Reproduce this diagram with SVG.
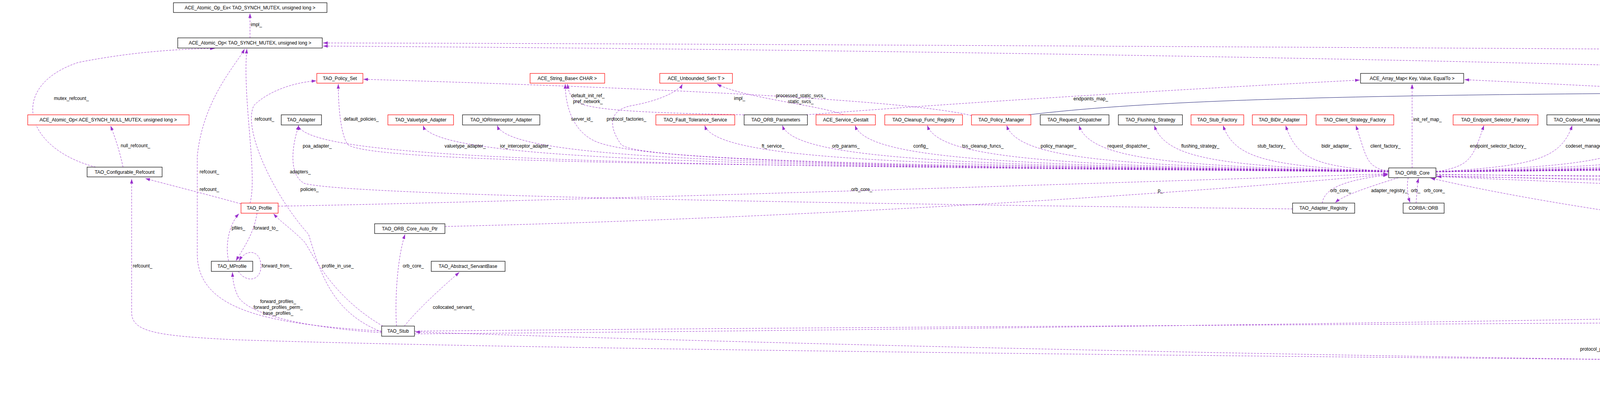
<svg xmlns="http://www.w3.org/2000/svg" width="7149" height="1032" viewBox="0 0 7149 1032">
<style>
text{font-family:"Liberation Sans",Arial,sans-serif;font-size:12px;fill:#000}
.n text{text-anchor:middle}
.n rect{fill:#fff;stroke:#000;stroke-width:1.2}
.r rect{stroke:#f00}
.g rect{fill:#bfbfbf}
.u{fill:none;stroke:#9a32cd;stroke-width:1;stroke-dasharray:5,3;marker-end:url(#ap)}
.i{fill:none;stroke:#191970;stroke-width:1;marker-end:url(#an)}
.t{fill:none;stroke:#8b1a1a;stroke-width:1;marker-end:url(#ar)}
.c{text-anchor:middle}
</style>
<defs>
<marker id="ap" markerUnits="userSpaceOnUse" markerWidth="12" markerHeight="8" refX="12" refY="4" orient="auto"><path d="M0,0 L12,4 L0,8 z" fill="#9a32cd"/></marker>
<marker id="an" markerUnits="userSpaceOnUse" markerWidth="12" markerHeight="8" refX="12" refY="4" orient="auto"><path d="M0,0 L12,4 L0,8 z" fill="#191970"/></marker>
<marker id="ar" markerUnits="userSpaceOnUse" markerWidth="12" markerHeight="8" refX="12" refY="4" orient="auto"><path d="M0,0 L12,4 L0,8 z" fill="#8b1a1a"/></marker>
</defs>
<rect width="7149" height="1032" fill="#fff"/>
<g id="connectors">
<path class="u" d="M640,97 L640,34"/><text x="642" y="67">impl_</text>
<path class="u" d="M245,428 C60,380 20,220 200,160 C350,130 480,125 550,124"/><text x="138" y="256">mutex_refcount_</text>
<path class="u" d="M315,428 C305,380 290,340 283,322"/><text x="309" y="377">null_refcount_</text>
<path class="u" d="M977,848 C700,830 505,800 505,650 L505,400 C520,250 610,160 626,125"/><text x="511" y="444">refcount_</text>
<path class="u" d="M6375,940 C4000,920 1500,900 600,870 C400,860 337,850 337,800 L337,458"/><text x="340" y="685">refcount_</text>
<path class="u" d="M617,522 C500,490 420,470 372,457"/><text x="511" y="489">refcount_</text>
<path class="u" d="M640,520 C660,450 620,250 632,125"/><text x="652" y="309">refcount_</text>
<path class="u" d="M3555,436 C2000,425 950,420 890,370 C870,340 866,260 866,215"/><text x="880" y="309">default_policies_</text>
<path class="u" d="M977,850 C850,800 820,700 790,600 C700,500 620,330 650,270 C690,230 760,210 810,207"/><text x="769" y="489">policies_</text>
<path class="u" d="M2487,296 C2300,250 1500,220 930,203"/><text x="1879" y="256">impl_</text>
<path class="u" d="M3309,535 C2000,520 900,500 780,470 C740,450 745,380 765,321"/><text x="742" y="444">adapters_</text>
<path class="u" d="M1905,294 C1700,290 1560,285 1500,270 C1465,260 1455,240 1453,215"/><text class="c" x="1505" y="249">default_init_ref_</text><text class="c" x="1505" y="264">pref_network_</text>
<path class="u" d="M3555,438 C2000,430 1600,400 1520,360 C1460,330 1447,260 1447,215"/><text x="1462" y="309">server_id_</text>
<path class="u" d="M3555,437 C2000,425 1620,400 1590,370 C1555,320 1560,280 1620,270 C1700,255 1740,230 1747,215"/><text x="1553" y="309">protocol_factories_</text>
<path class="u" d="M2160,294 C2100,270 1900,250 1835,215"/><text class="c" x="2050" y="249">processed_static_svcs_</text><text class="c" x="2050" y="264">static_svcs_</text>
<path class="u" d="M2064,294 C2500,260 3000,230 3481,205"/><text x="2748" y="257">endpoints_map_</text>
<path class="u" d="M5260,294 C5000,270 4500,240 3749,204"/><text x="4932" y="257">table_</text>
<path class="u" d="M980,835 C850,760 800,650 780,620 C740,580 720,570 700,547"/><text x="824" y="685">profile_in_use_</text>
<path class="u" d="M585,668 C575,620 590,570 612,547"/><text x="593" y="588">pfiles_</text>
<path class="u" d="M658,546 C650,600 620,640 604,668"/><text x="649" y="588">forward_to_</text>
<path class="u" d="M610,695 C630,725 668,720 668,682 C668,640 630,635 612,668"/><text x="670" y="685">forward_from_</text>
<path class="u" d="M977,852 C800,840 640,810 610,760 C600,740 596,720 595,697"/><text class="c" x="712" y="776">forward_profiles_</text><text class="c" x="712" y="791">forward_profiles_perm_</text><text class="c" x="712" y="806">base_profiles_</text>
<path class="u" d="M1015,835 C1010,750 1020,650 1037,600"/><text x="1031" y="685">orb_core_</text>
<path class="u" d="M1035,835 C1080,780 1150,720 1176,697"/><text x="1108" y="791">collocated_servant_</text>
<path class="u" d="M1139,580 C2000,560 3000,500 3553,446"/><text x="2964" y="492">p_</text>
<path class="u" d="M712,528 C1200,520 2500,480 3553,445"/><text x="2179" y="489">orb_core_</text>
<path class="u" d="M3385,520 C3390,480 3450,460 3553,448"/><text x="3405" y="492">orb_core_</text>
<path class="u" d="M3580,455 C3500,480 3440,500 3418,519"/><text x="3510" y="492">adapter_registry_</text>
<path class="u" d="M3605,455 C3600,480 3605,505 3610,519"/><text x="3612" y="492">orb_</text>
<path class="u" d="M3625,520 C3628,490 3628,470 3632,456"/><text x="3645" y="492">orb_core_</text>
<path class="u" d="M3676,450 C4500,470 5300,500 5831,523"/><text x="5219" y="492">thread_lane_resources_manager_</text>
<path class="u" d="M5833,532 C5000,505 4200,475 3678,452"/><text x="4786" y="492">orb_core_</text>
<path class="u" d="M5110,320 C5140,330 5180,325 5180,305 C5180,280 5140,278 5106,293"/><text x="5181" y="310">thr_mgr_</text>
<path class="u" d="M6500,320 C6540,328 6545,318 6545,305 C6545,285 6515,282 6487,293"/><text x="6548" y="304">max_time</text><text x="6565" y="319">zero</text>
<path class="u" d="M3676,446 C5000,470 6200,440 6430,410 C6470,400 6478,360 6474,321"/><text x="6395" y="446">timeout_</text>
<path class="u" d="M3676,438 C5000,430 6100,420 6150,400 C6170,340 6230,330 6330,305 C6300,270 6100,250 5500,210 C4000,150 2000,125 827,118"/><text x="6212" y="257">refcount_</text>
<path class="u" d="M6640,188 C6600,170 6500,145 6300,140 C5000,130 2000,112 827,110"/><text x="6489" y="160">refcount_</text>
<path class="u" d="M1061,855 C3000,840 6400,790 6520,740 C6550,700 6545,500 6550,215"/><text x="6546" y="491">profile_lock_ptr_</text>
<path class="u" d="M6500,927 C6600,890 6663,850 6663,800 L6663,300 C6640,260 6600,230 6575,215"/><text x="6665" y="539">object_init_lock_</text>
<path class="u" d="M6437,927 L6440,760 C6300,750 4500,650 3662,456"/><text x="6437" y="685">orb_core_</text>
<path class="u" d="M3676,452 C5000,470 6000,490 6200,510 C6245,520 6253,560 6253,600 L6253,860 C6260,900 6320,925 6373,932"/>
<text class="c" x="6324" y="634">pi_current_</text><text class="c" x="6324" y="649">ior_manip_factory_</text><text class="c" x="6324" y="663">ior_table_</text><text class="c" x="6324" y="678">typecode_factory_</text><text class="c" x="6324" y="693">implrepo_service_</text><text class="c" x="6324" y="708">codec_factory_</text><text class="c" x="6324" y="722">compression_manager_</text><text class="c" x="6324" y="737">dynany_factory_</text>
<path class="u" d="M6375,942 C4000,932 2000,882 1063,850"/><text x="4045" y="898">protocol_proxy_</text>
<path class="u" d="M3676,447 C5000,460 6200,430 6500,400 C6700,370 6800,340 6856,321"/><text class="c" x="6790" y="358">rt_orb_</text><text class="c" x="6790" y="373">poa_current_</text><text class="c" x="6790" y="387">rt_current_</text><text class="c" x="6790" y="402">root_poa_</text>
<path class="u" d="M6832,430 C6860,390 6890,350 6906,321"/><text x="6890" y="379">ssliop_current_</text>
<path class="u" d="M1061,848 C3000,830 6000,820 6560,810 C6700,700 6900,450 6963,321"/><text class="c" x="6979" y="529">servant_orb_</text><text class="c" x="6979" y="544">orb_</text>
<path class="u" d="M3555,440 C1601,425 793,410 763,321"/><text x="775" y="378">poa_adapter_</text>
<path class="u" d="M3555,440 C1825,425 1113,410 1083,321"/><text x="1138" y="378">valuetype_adapter_</text>
<path class="u" d="M3555,440 C1958,425 1303,410 1273,321"/><text x="1280" y="378">ior_interceptor_adapter_</text>
<path class="u" d="M3555,440 C2329,425 1834,410 1804,321"/><text x="1950" y="378">ft_service_</text>
<path class="u" d="M3555,440 C2469,425 2033,410 2003,321"/><text x="2130" y="378">orb_params_</text>
<path class="u" d="M3555,440 C2599,425 2219,410 2189,321"/><text x="2338" y="378">config_</text>
<path class="u" d="M3555,440 C2728,425 2404,410 2374,321"/><text x="2463" y="378">tss_cleanup_funcs_</text>
<path class="u" d="M3555,440 C2870,425 2607,410 2577,321"/><text x="2664" y="378">policy_manager_</text>
<path class="u" d="M3555,440 C3000,425 2792,410 2762,321"/><text x="2835" y="378">request_dispatcher_</text>
<path class="u" d="M3555,440 C3135,425 2985,410 2955,321"/><text x="3024" y="378">flushing_strategy_</text>
<path class="u" d="M3555,440 C3258,425 3161,410 3131,321"/><text x="3219" y="378">stub_factory_</text>
<path class="u" d="M3555,440 C3370,425 3321,410 3291,321"/><text x="3383" y="378">bidir_adapter_</text>
<path class="u" d="M3555,440 C3496,425 3501,410 3471,321"/><text x="3508" y="378">client_factory_</text>
<path class="u" d="M3615,430 L3615,215"/><text x="3618" y="310">init_ref_map_</text>
<path class="u" d="M3676,440 C3762,425 3769,410 3799,321"/><text x="3763" y="378">endpoint_selector_factory_</text>
<path class="u" d="M3676,440 C3920,425 3995,410 4025,321"/><text x="4008" y="378">codeset_manager_</text>
<path class="u" d="M3676,440 C4060,425 4194,410 4224,321"/><text x="4207" y="378">collocation_resolver_</text>
<path class="u" d="M3676,440 C4195,425 4387,410 4417,321"/><text x="4403" y="378">parser_registry_</text>
<path class="u" d="M3676,440 C4349,425 4607,410 4637,321"/><text x="4610" y="378">network_priority_protocols_hooks_</text>
<path class="u" d="M3676,440 C4520,425 4852,410 4882,321"/><text x="4873" y="378">protocols_hooks_</text>
<path class="u" d="M3676,440 C4646,425 5032,410 5062,321"/><text x="5049" y="378">tm_</text>
<path class="u" d="M3676,440 C4816,425 5275,410 5305,321"/><text x="5257" y="378">object_ref_table_</text>
<path class="u" d="M3676,440 C4996,425 5531,410 5561,321"/><text x="5518" y="378">data_block_lock_</text>
<path class="u" d="M3676,440 C5161,425 5768,410 5798,321"/><text x="5754" y="378">policy_current_</text>
<path class="u" d="M3676,440 C5264,425 5915,410 5945,321"/><text x="5879" y="378">server_factory_</text>
<path class="u" d="M3676,440 C5415,425 6130,410 6160,321"/><text x="6010" y="378">resource_factory_</text>
<path class="u" d="M3676,440 C5579,425 6300,400 6394,318"/><text x="6174" y="378">thread_per_connection_timeout_</text>
<path class="i" d="M5676,294 C6000,250 6300,210 6477,204"/>
<path class="i" d="M2633,294 C3000,250 3600,240 4800,236 C5600,232 6300,220 6586,214"/>
<path class="i" d="M5905,294 C6100,260 6400,225 6586,217"/>
<path class="i" d="M6815,430 L6705,215"/>
<path class="i" d="M6800,212 C6950,250 7055,300 7055,400 L7055,920 C7055,960 7000,985 6944,1003"/>
<path class="i" d="M6870,1004 L6491,952"/>
<path class="t" d="M6940,294 L7058,215"/>
</g>
<g id="n_atomic_ex" class="n"><rect x="444" y="7" width="393" height="25"/><text x="640" y="24">ACE_Atomic_Op_Ex&lt; TAO_SYNCH_MUTEX, unsigned long &gt;</text></g>
<g id="n_atomic" class="n"><rect x="455" y="97" width="370" height="26"/><text x="640" y="114">ACE_Atomic_Op&lt; TAO_SYNCH_MUTEX, unsigned long &gt;</text></g>
<g id="n_policy_set" class="n r"><rect x="811" y="188" width="118" height="25"/><text x="870" y="205">TAO_Policy_Set</text></g>
<g id="n_string_base" class="n r"><rect x="1357" y="188" width="191" height="25"/><text x="1452" y="205">ACE_String_Base&lt; CHAR &gt;</text></g>
<g id="n_unbounded_set" class="n r"><rect x="1689" y="188" width="186" height="25"/><text x="1782" y="205">ACE_Unbounded_Set&lt; T &gt;</text></g>
<g id="n_array_map" class="n"><rect x="3483" y="188" width="264" height="25"/><text x="3615" y="205">ACE_Array_Map&lt; Key, Value, EqualTo &gt;</text></g>
<g id="n_ace_lock" class="n"><rect x="6479" y="188" width="85" height="25"/><text x="6521" y="205">ACE_Lock</text></g>
<g id="n_local_refcounted" class="n"><rect x="6588" y="188" width="212" height="25"/><text x="6694" y="205">TAO_Local_RefCounted_Object</text></g>
<g id="n_base_var" class="n"><rect x="7032" y="188" width="113" height="25"/><text x="7088" y="205">TAO_Base_var</text></g>
<g id="n_null_atomic" class="n r"><rect x="71" y="294" width="413" height="26"/><text x="277" y="311">ACE_Atomic_Op&lt; ACE_SYNCH_NULL_MUTEX, unsigned long &gt;</text></g>
<g id="n_adapter" class="n"><rect x="720" y="294" width="103" height="26"/><text x="771" y="311">TAO_Adapter</text></g>
<g id="n_valuetype" class="n r"><rect x="993" y="294" width="168" height="26"/><text x="1077" y="311">TAO_Valuetype_Adapter</text></g>
<g id="n_iorint" class="n"><rect x="1184" y="294" width="198" height="26"/><text x="1283" y="311">TAO_IORInterceptor_Adapter</text></g>
<g id="n_ft" class="n r"><rect x="1679" y="294" width="202" height="26"/><text x="1780" y="311">TAO_Fault_Tolerance_Service</text></g>
<g id="n_orb_params" class="n"><rect x="1905" y="294" width="162" height="26"/><text x="1986" y="311">TAO_ORB_Parameters</text></g>
<g id="n_gestalt" class="n r"><rect x="2089" y="294" width="152" height="26"/><text x="2165" y="311">ACE_Service_Gestalt</text></g>
<g id="n_cleanup" class="n r"><rect x="2265" y="294" width="199" height="26"/><text x="2364" y="311">TAO_Cleanup_Func_Registry</text></g>
<g id="n_policy_mgr" class="n r"><rect x="2487" y="294" width="152" height="26"/><text x="2563" y="311">TAO_Policy_Manager</text></g>
<g id="n_req_disp" class="n"><rect x="2663" y="294" width="176" height="26"/><text x="2751" y="311">TAO_Request_Dispatcher</text></g>
<g id="n_flushing" class="n"><rect x="2863" y="294" width="164" height="26"/><text x="2945" y="311">TAO_Flushing_Strategy</text></g>
<g id="n_stub_factory" class="n r"><rect x="3049" y="294" width="135" height="26"/><text x="3116" y="311">TAO_Stub_Factory</text></g>
<g id="n_bidir" class="n r"><rect x="3206" y="294" width="139" height="26"/><text x="3275" y="311">TAO_BiDir_Adapter</text></g>
<g id="n_client_sf" class="n r"><rect x="3369" y="294" width="199" height="26"/><text x="3468" y="311">TAO_Client_Strategy_Factory</text></g>
<g id="n_endpoint_sf" class="n r"><rect x="3720" y="294" width="217" height="26"/><text x="3828" y="311">TAO_Endpoint_Selector_Factory</text></g>
<g id="n_codeset" class="n"><rect x="3960" y="294" width="165" height="26"/><text x="4042" y="311">TAO_Codeset_Manager</text></g>
<g id="n_colloc" class="n r"><rect x="4149" y="294" width="182" height="26"/><text x="4240" y="311">TAO_Collocation_Resolver</text></g>
<g id="n_parser" class="n r"><rect x="4355" y="294" width="150" height="26"/><text x="4430" y="311">TAO_Parser_Registry</text></g>
<g id="n_npph" class="n r"><rect x="4528" y="294" width="263" height="26"/><text x="4659" y="311">TAO_Network_Priority_Protocols_Hooks</text></g>
<g id="n_ph" class="n r"><rect x="4813" y="294" width="158" height="26"/><text x="4892" y="311">TAO_Protocols_Hooks</text></g>
<g id="n_thr_mgr" class="n r"><rect x="4995" y="294" width="160" height="26"/><text x="5075" y="311">ACE_Thread_Manager</text></g>
<g id="n_ort" class="n"><rect x="5259" y="294" width="161" height="26"/><text x="5339" y="311">TAO_Object_Ref_Table</text></g>
<g id="n_lock_adapter" class="n"><rect x="5443" y="294" width="296" height="26"/><text x="5591" y="311">ACE_Lock_Adapter&lt; TAO_SYNCH_MUTEX &gt;</text></g>
<g id="n_policy_cur" class="n r"><rect x="5763" y="294" width="143" height="26"/><text x="5834" y="311">TAO_Policy_Current</text></g>
<g id="n_server_sf" class="n r"><rect x="5931" y="294" width="204" height="26"/><text x="6033" y="311">TAO_Server_Strategy_Factory</text></g>
<g id="n_res_factory" class="n r"><rect x="6157" y="294" width="164" height="26"/><text x="6239" y="311">TAO_Resource_Factory</text></g>
<g id="n_time_value" class="n"><rect x="6395" y="294" width="128" height="26"/><text x="6459" y="311">ACE_Time_Value</text></g>
<g id="n_pseudo" class="n"><rect x="6833" y="294" width="176" height="26"/><text x="6921" y="311">TAO_Pseudo_Var_T&lt; T &gt;</text></g>
<g id="n_conf_refcount" class="n"><rect x="223" y="428" width="192" height="25"/><text x="319" y="445">TAO_Configurable_Refcount</text></g>
<g id="n_orb_core" class="n"><rect x="3555" y="430" width="121" height="25"/><text x="3615" y="447">TAO_ORB_Core</text></g>
<g id="n_ssliop" class="n g"><rect x="6676" y="430" width="291" height="25"/><text x="6821" y="447">TAO::SSLIOP::Server_Invocation_Interceptor</text></g>
<g id="n_profile" class="n r"><rect x="617" y="520" width="95" height="26"/><text x="664" y="537">TAO_Profile</text></g>
<g id="n_adapter_reg" class="n"><rect x="3309" y="520" width="159" height="26"/><text x="3388" y="537">TAO_Adapter_Registry</text></g>
<g id="n_corba_orb" class="n"><rect x="3592" y="520" width="105" height="26"/><text x="3644" y="537">CORBA::ORB</text></g>
<g id="n_tlrm" class="n r"><rect x="5833" y="520" width="266" height="26"/><text x="5966" y="537">TAO_Thread_Lane_Resources_Manager</text></g>
<g id="n_auto_ptr" class="n"><rect x="959" y="573" width="180" height="25"/><text x="1049" y="590">TAO_ORB_Core_Auto_Ptr</text></g>
<g id="n_mprofile" class="n"><rect x="541" y="669" width="106" height="26"/><text x="594" y="686">TAO_MProfile</text></g>
<g id="n_servantbase" class="n"><rect x="1104" y="669" width="189" height="26"/><text x="1198" y="686">TAO_Abstract_ServantBase</text></g>
<g id="n_stub" class="n"><rect x="977" y="835" width="84" height="26"/><text x="1019" y="852">TAO_Stub</text></g>
<g id="n_corba_object" class="n"><rect x="6375" y="927" width="114" height="25"/><text x="6432" y="944">CORBA::Object</text></g>
<g id="n_local_object" class="n"><rect x="6818" y="1004" width="146" height="26"/><text x="6891" y="1021">CORBA::LocalObject</text></g>
</svg>
